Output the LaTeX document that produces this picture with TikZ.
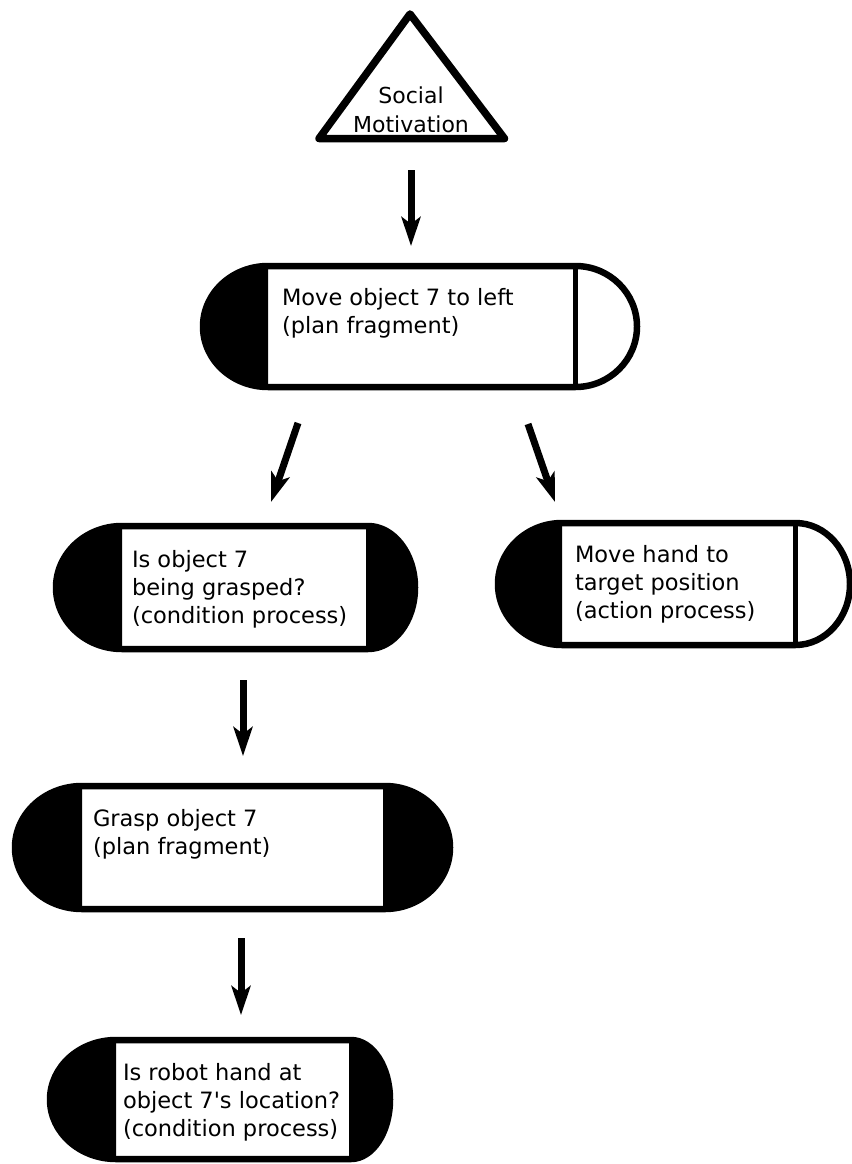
\documentclass[tikz,border=0pt]{standalone}
\usepackage{fontspec}
\setmainfont{DejaVu Sans}[Ligatures=TeXOff]
\usetikzlibrary{arrows.meta}

% A capsule around the named slot node: half-elliptic ends, left end black,
% right end filled with #5 and separated from the slot by a bar.
% #1 slot name, #2 left end radius, #3 right end radius, #4 half height, #5 right end fill
\newcommand\drawcapsule[5]{%
  \fill[white] (#1.north west) -- (#1.north east)
    arc[start angle=-90,end angle=90,x radius=#3,y radius=#4]
    -- (#1.south west)
    arc[start angle=90,end angle=270,x radius=#2,y radius=#4] -- cycle;
  \fill[black] (#1.south west)
    arc[start angle=90,end angle=270,x radius=#2,y radius=#4] -- cycle;
  \fill[#5] (#1.north east)
    arc[start angle=-90,end angle=90,x radius=#3,y radius=#4] -- cycle;
  \draw[bar] (#1.north east) -- (#1.south east);
  \draw[rim] (#1.north west) -- (#1.north east)
    arc[start angle=-90,end angle=90,x radius=#3,y radius=#4]
    -- (#1.south west)
    arc[start angle=90,end angle=270,x radius=#2,y radius=#4] -- cycle;
}

\tikzset{
  rim/.style={line width=6.5pt, line join=round},
  bar/.style={line width=5pt},
  slot/.style={inner sep=0pt, outer sep=0pt, draw=none},
  txt/.style={inner sep=0pt, outer sep=0pt, font=\fontsize{22.5}{28}\selectfont},
  flow/.style={line width=7pt, -{Stealth[length=29pt,width=19pt,inset=7pt]}},
}

\begin{document}
\begin{tikzpicture}[x=1pt, y=-1pt]
\useasboundingbox (0,0) rectangle (851,1164);

% goal triangle
\draw[line width=7.5pt, line join=round, fill=white]
  (410,14) -- (504.5,138.5) -- (319,138.5) -- cycle;
\node[txt, font=\fontsize{22}{29}\selectfont, anchor=base] (goal) at (411,103)
  {\begin{tabular}[t]{@{}c@{}}Social\\Motivation\end{tabular}};

% slots (white text areas of the capsules)
\node[slot, minimum width=307.5pt, minimum height=121pt] (n1) at (421.75,326.5) {};
\node[slot, minimum width=246pt,   minimum height=123pt] (n2) at (245,587.5) {};
\node[slot, minimum width=233.5pt, minimum height=122pt] (n3) at (678.75,584) {};
\node[slot, minimum width=303pt,   minimum height=123pt] (n4) at (233.5,847.5) {};
\node[slot, minimum width=235pt,   minimum height=119pt] (n5) at (233.5,1099.5) {};

\drawcapsule{n1}{65}{61.5}{60.5}{white}
\drawcapsule{n2}{66}{47}{61.5}{black}
\drawcapsule{n3}{64}{54.5}{61}{white}
\drawcapsule{n4}{67}{65}{61.5}{black}
\drawcapsule{n5}{66}{39}{59.5}{black}

% texts
\node[txt, anchor=base west] (n1t) at (282,305)
  {\begin{tabular}[t]{@{}l@{}}Move object 7 to left\\(plan fragment)\end{tabular}};
\node[txt, anchor=base west] (n2t) at (132,567)
  {\begin{tabular}[t]{@{}l@{}}Is object 7\\being grasped?\\(condition process)\end{tabular}};
\node[txt, anchor=base west] (n3t) at (575,562)
  {\begin{tabular}[t]{@{}l@{}}Move hand to\\target position\\(action process)\end{tabular}};
\node[txt, anchor=base west] (n4t) at (93,826)
  {\begin{tabular}[t]{@{}l@{}}Grasp object 7\\(plan fragment)\end{tabular}};
\node[txt, anchor=base west] (n5t) at (123,1080)
  {\begin{tabular}[t]{@{}l@{}}Is robot hand at\\object 7's location?\\(condition process)\end{tabular}};

% connector ends
\coordinate (a1s) at (411,170);  \coordinate (a1e) at (411,246);
\coordinate (a2s) at (298,423);  \coordinate (a2e) at (271,502);
\coordinate (a3s) at (528,424);  \coordinate (a3e) at (555,502);
\coordinate (a4s) at (243,680);  \coordinate (a4e) at (243,756);
\coordinate (a5s) at (241,938);  \coordinate (a5e) at (241,1015);

\draw[flow] (a1s) -- (a1e);
\draw[flow] (a2s) -- (a2e);
\draw[flow] (a3s) -- (a3e);
\draw[flow] (a4s) -- (a4e);
\draw[flow] (a5s) -- (a5e);
\end{tikzpicture}
\end{document}
